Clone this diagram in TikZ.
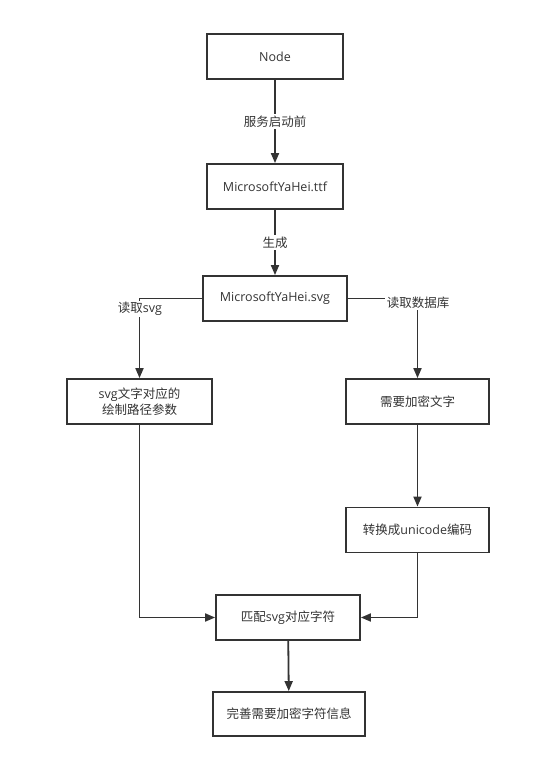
\documentclass[tikz,border=0pt]{standalone}
\usepackage{fontspec}
\setmainfont{Open Sans}
\newfontfamily\cjk{Noto Sans CJK SC}
\usetikzlibrary{arrows.meta}
\definecolor{ln}{HTML}{333333}
\tikzset{
  box/.style={draw=ln, line width=1.8pt, minimum width=136pt, minimum height=45pt, inner sep=0pt, align=center, text=ln, font=\fontsize{12.5}{16}\selectfont},
  conn/.style={draw=ln, line width=1.8pt, -{Triangle[length=10pt,width=8pt]}},
  lbl/.style={fill=white, text=ln, inner sep=1.5pt, font=\fontsize{12.5}{15}\selectfont}
}
\begin{document}
\begin{tikzpicture}[x=1pt,y=-1pt]
\useasboundingbox (0,0) rectangle (546,765);
\node[box] (n1) at (275,56.5) {Node};
\node[box] (n2) at (275,186.5) {MicrosoftYaHei.ttf};
\node[box, minimum width=144pt] (n3) at (275,298.5) {MicrosoftYaHei.svg};
\node[box, minimum width=145pt] (n4) at (139.5,401.5) {svg{\cjk 文字对应的}\\{\cjk 绘制路径参数}};
\node[box, minimum width=143pt] (n5) at (417.5,401.5) {\cjk 需要加密文字};
\node[box, minimum width=143pt] (n6) at (417.5,530) {{\cjk 转换成}unicode{\cjk 编码}};
\node[box, minimum width=144pt] (n7) at (288,617.5) {{\cjk 匹配}svg{\cjk 对应字符}};
\node[box, minimum width=152pt, minimum height=44pt] (n8) at (289,714) {\cjk 完善需要加密字符信息};

\draw[conn] (n1) -- node[lbl] {\cjk 服务启动前} (n2);
\draw[conn] (n2) -- node[lbl, pos=0.5] {\cjk 生成} (n3);
\draw[conn] (n3.west) -| (n4.north);
\draw[conn] (n3.east) -| (n5.north);
\node[lbl] (l1) at (140,309) {{\cjk 读取}svg};
\node[lbl] (l2) at (418,303) {\cjk 读取数据库};
\draw[conn] (n5) -- (n6);
\draw[conn] (n4.south) |- (n7.west);
\draw[conn] (n6.south) |- (n7.east);
\draw[conn] (n7) -- (n8);
\end{tikzpicture}
\end{document}
